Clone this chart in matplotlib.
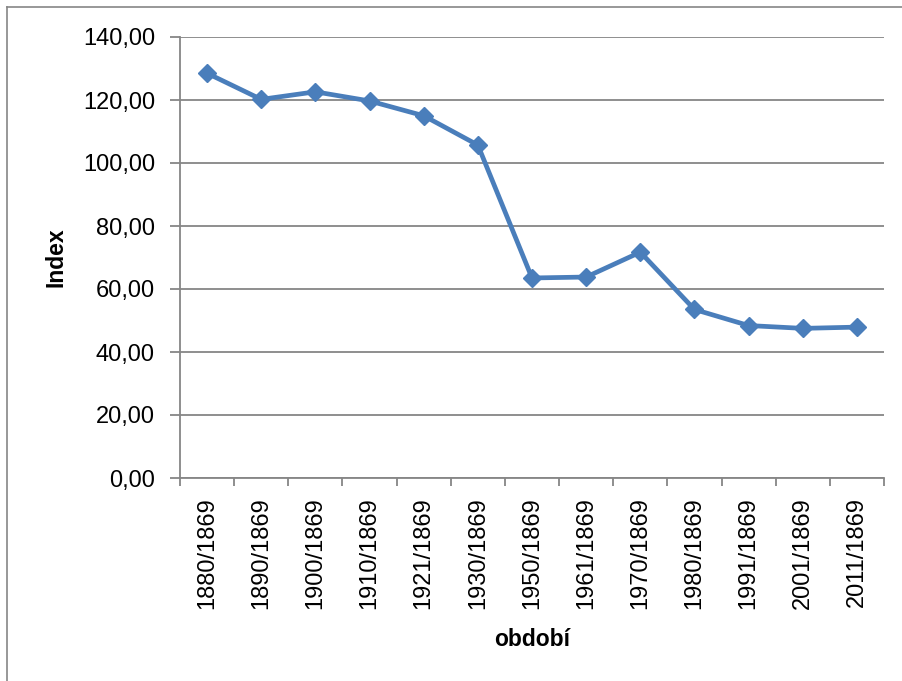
import matplotlib.pyplot as plt
from matplotlib.lines import Line2D
import numpy as np

# data
periods = ["1880/1869", "1890/1869", "1900/1869", "1910/1869", "1921/1869",
           "1930/1869", "1950/1869", "1961/1869", "1970/1869", "1980/1869",
           "1991/1869", "2001/1869", "2011/1869"]
index_vals = [128.5, 120.2, 122.6, 119.7, 115.0, 105.7, 63.5, 63.8, 71.7,
              53.5, 48.4, 47.5, 47.9]
yticks = [0, 20, 40, 60, 80, 100, 120, 140]

plt.rcParams['font.family'] = ['Liberation Sans', 'DejaVu Sans']
grey = '#868686'
blue = '#4A7EBB'

fig = plt.figure(figsize=(9.03, 6.81), dpi=100)
ax = fig.add_axes([180 / 903, 1 - 478 / 681, 704 / 903, 441 / 681])

x = np.arange(len(periods))
ax.plot(x, index_vals, color=blue, linewidth=3.4, marker='D', markersize=9.5,
        markeredgecolor=blue, markerfacecolor=blue, zorder=3, clip_on=False)

ax.set_xlim(-0.5, len(periods) - 0.5)
ax.set_ylim(0, 140)

# y axis
ax.set_yticks(yticks)
ax.set_yticklabels([("%.2f" % v).replace('.', ',') for v in yticks], fontsize=17)
ax.tick_params(axis='y', length=7, width=1.3, color=grey, pad=11)
ax.grid(axis='y', color=grey, linewidth=1.3)
ax.set_axisbelow(True)

# x axis: ticks at category boundaries, labels at centers
ax.set_xticks(np.arange(-0.5, len(periods), 1.0))
ax.set_xticklabels([])
ax.tick_params(axis='x', which='major', length=6, width=1.3, color=grey)
ax.set_xticks(x, minor=True)
ax.set_xticklabels(periods, minor=True, rotation=90, fontsize=17)
ax.tick_params(axis='x', which='minor', length=0, pad=14)

for s in ['top', 'right']:
    ax.spines[s].set_visible(False)
for s in ['left', 'bottom']:
    ax.spines[s].set_color(grey)
    ax.spines[s].set_linewidth(1.3)

ax.set_ylabel("Index", fontsize=16.5, fontweight='bold')
ax.yaxis.set_label_coords(-0.1605, 0.5)
ax.set_xlabel("období", fontsize=16.5, fontweight='bold')
ax.xaxis.set_label_coords(0.5, -0.340)

# outer chart border (cut at right and bottom)
W, H = 903, 681
fig.add_artist(Line2D([7 / W, 7 / W], [0, 1 - 7 / H], color=grey, linewidth=1.2))
fig.add_artist(Line2D([7 / W, 1], [1 - 7 / H, 1 - 7 / H], color=grey, linewidth=1.2))

fig.savefig("out.png", dpi=100)
